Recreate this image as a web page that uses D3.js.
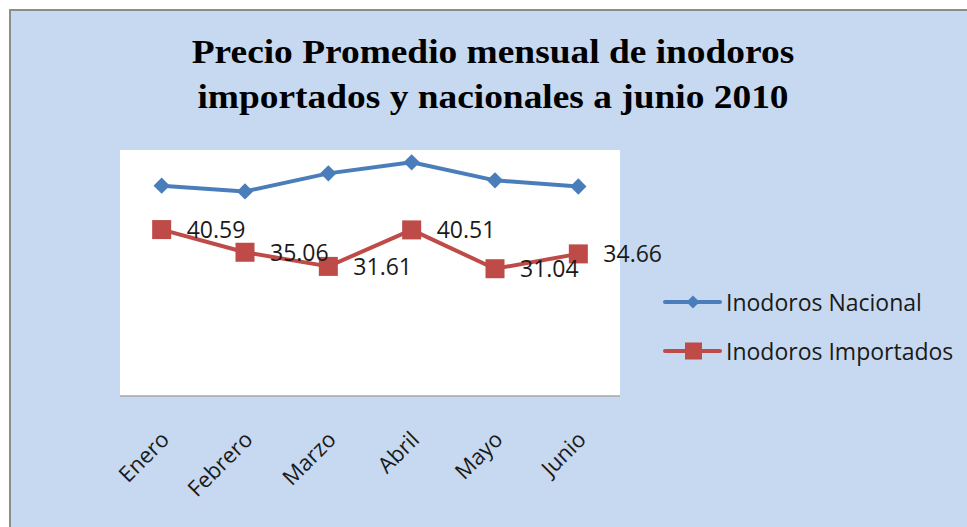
<!DOCTYPE html>
<html>
<head>
<meta charset="utf-8">
<script src="https://cdn.jsdelivr.net/npm/d3@7"></script>
<style>
  body { margin: 0; background: #fff; }
  svg text { font-family: "Open Sans", sans-serif; fill: #1a1a1a; }
</style>
</head>
<body>
<div id="chart"></div>
<script>
// Data
const months = ["Enero", "Febrero", "Marzo", "Abril", "Mayo", "Junio"];
const nacional = [51.3, 49.9, 54.3, 57.0, 52.6, 51.1];
const importados = [40.59, 35.06, 31.61, 40.51, 31.04, 34.66];
const titleLines = ["Precio Promedio mensual de inodoros", "importados y nacionales a junio 2010"];
const seriesNames = ["Inodoros Nacional", "Inodoros Importados"];

const W = 967, H = 527;
const blue = "#4a7ebb", red = "#be4b48";

const svg = d3.select("#chart").append("svg")
    .attr("width", W)
    .attr("height", H);

// chart area frame
svg.append("rect")
    .attr("x", 10).attr("y", 10)
    .attr("width", W + 20).attr("height", H + 20)
    .attr("fill", "#c6d9f0")
    .attr("stroke", "#8c8c8c")
    .attr("stroke-width", 2);

// title (the original is a bit wider than Times, so stretch it)
svg.append("g")
    .attr("transform", "translate(493,0) scale(1.1,1)")
    .append("text")
    .attr("text-anchor", "middle")
    .style("font-family", "'Liberation Serif', 'Times New Roman', serif")
    .style("font-weight", "bold")
    .style("font-size", "34px")
    .style("fill", "#000")
    .selectAll("tspan")
    .data(titleLines)
    .enter()
    .append("tspan")
    .attr("x", 0)
    .attr("y", (d, i) => 63 + i * 45)
    .text(d => d);

// plot area
const plot = {left: 120, right: 620, top: 150, bottom: 396};
svg.append("rect")
    .attr("x", plot.left).attr("y", plot.top)
    .attr("width", plot.right - plot.left)
    .attr("height", plot.bottom - plot.top)
    .attr("fill", "#fff");
svg.append("line")
    .attr("x1", plot.left).attr("x2", plot.right)
    .attr("y1", plot.bottom).attr("y2", plot.bottom)
    .attr("stroke", "#a6a6a6")
    .attr("stroke-width", 1.5);

const x = d3.scaleBand()
    .domain(months)
    .range([plot.left, plot.right]);

const y = d3.scaleLinear()
    .domain([0, 60])
    .range([plot.bottom, plot.top]);

const cx = d => x(d) + x.bandwidth() / 2;

// month labels (rotated)
svg.append("g")
    .selectAll("text")
    .data(months)
    .enter()
    .append("text")
    .attr("text-anchor", "end")
    .attr("transform", d => `translate(${cx(d) + 9},${441}) rotate(-45)`)
    .style("font-size", "22px")
    .text(d => d);

const line = d3.line()
    .x((d, i) => cx(months[i]))
    .y(d => y(d));

// Nacional series
svg.append("path")
    .datum(nacional)
    .attr("fill", "none")
    .attr("stroke", blue)
    .attr("stroke-width", 4)
    .attr("stroke-linejoin", "round")
    .attr("d", line);

svg.selectAll(".diamond")
    .data(nacional)
    .enter()
    .append("path")
    .attr("class", "diamond")
    .attr("d", d3.symbol().type(d3.symbolDiamond2).size(170))
    .attr("transform", (d, i) => `translate(${cx(months[i])},${y(d)})`)
    .attr("fill", blue);

// Importados series
svg.append("path")
    .datum(importados)
    .attr("fill", "none")
    .attr("stroke", red)
    .attr("stroke-width", 4)
    .attr("stroke-linejoin", "round")
    .attr("d", line);

svg.selectAll(".square")
    .data(importados)
    .enter()
    .append("rect")
    .attr("class", "square")
    .attr("x", (d, i) => cx(months[i]) - 9.5)
    .attr("y", d => y(d) - 9.5)
    .attr("width", 19)
    .attr("height", 19)
    .attr("fill", red);

// data labels
svg.selectAll(".label")
    .data(importados)
    .enter()
    .append("text")
    .attr("class", "label")
    .attr("x", (d, i) => cx(months[i]) + 25)
    .attr("y", d => y(d) + 8.5)
    .style("font-size", "23px")
    .text(d => d.toFixed(2));

// legend
const legend = svg.append("g");
const legendItems = legend.selectAll("g")
    .data(seriesNames)
    .enter()
    .append("g")
    .attr("transform", (d, i) => `translate(665,${302 + i * 49})`);

legendItems.append("line")
    .attr("x1", 0).attr("x2", 55)
    .attr("stroke", (d, i) => i === 0 ? blue : red)
    .attr("stroke-width", 4)
    .attr("stroke-linecap", "round");

legendItems.filter((d, i) => i === 0)
    .append("path")
    .attr("d", d3.symbol().type(d3.symbolDiamond2).size(110))
    .attr("transform", "translate(28,0)")
    .attr("fill", blue);

legendItems.filter((d, i) => i === 1)
    .append("rect")
    .attr("x", 20).attr("y", -8.5)
    .attr("width", 17).attr("height", 17)
    .attr("fill", red);

legendItems.append("text")
    .attr("x", 61)
    .attr("y", 8.5)
    .style("font-size", "23px")
    .text(d => d);
</script>
</body>
</html>
